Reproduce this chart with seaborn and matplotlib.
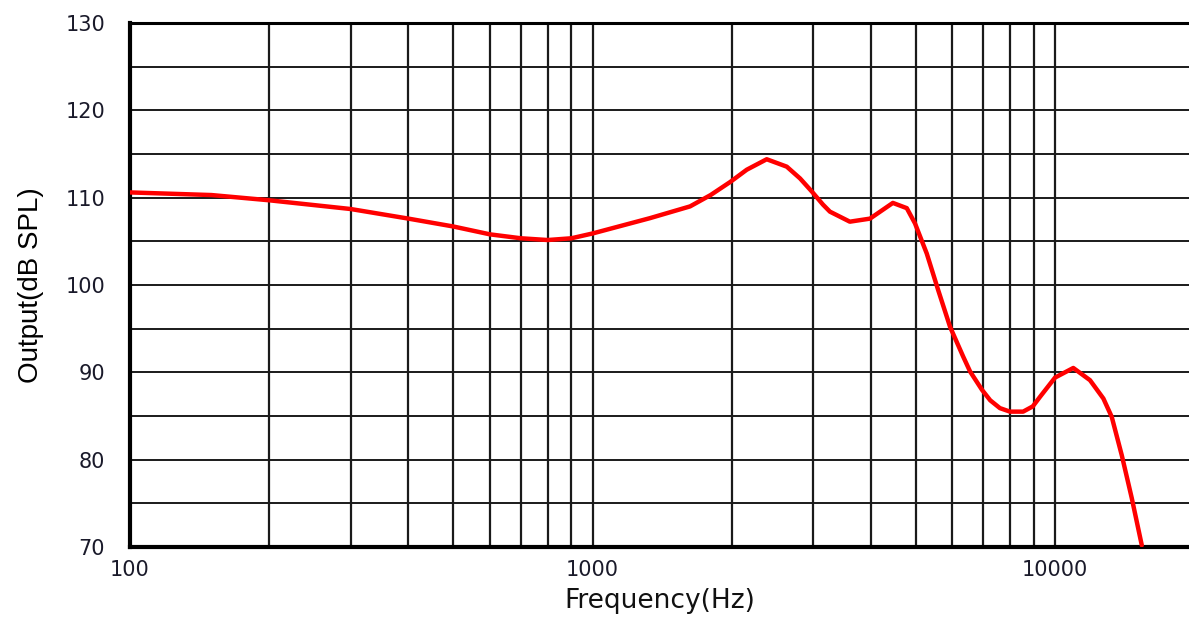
import matplotlib
matplotlib.use("Agg")
import matplotlib.pyplot as plt
import seaborn as sns
import pandas as pd
import numpy as np

# values
freq_hz = [100, 150, 200, 300, 400, 500, 600, 700, 800, 900, 1000, 1330,
           1625, 1800, 1985, 2155, 2380, 2630, 2810, 2980, 3150, 3260, 3600,
           3980, 4460, 4780, 4980, 5280, 5590, 5930, 6330, 6550, 6950, 7240,
           7600, 7990, 8530, 8950, 9280, 10000, 10950, 11900, 12720, 13260,
           13940, 14650, 15400]
output_db = [110.6, 110.3, 109.7, 108.7, 107.6, 106.7, 105.8, 105.35, 105.15,
             105.35, 105.9, 107.65, 109.0, 110.3, 111.8, 113.2, 114.4, 113.55,
             112.2, 110.7, 109.2, 108.4, 107.25, 107.6, 109.4, 108.8, 107.05,
             103.6, 99.4, 95.2, 91.8, 90.1, 88.0, 86.8, 85.9, 85.5, 85.5, 86.1,
             87.2, 89.4, 90.5, 89.1, 87.0, 84.9, 80.5, 75.6, 70.2]

y_ticks = [70, 80, 90, 100, 110, 120, 130]
x_ticks = [100, 1000, 10000]
x_tick_labels = ["100", "1000", "10000"]

df = pd.DataFrame({"Frequency": freq_hz, "Output": output_db})

sns.set_style("white")
plt.rcParams["font.family"] = ["DejaVu Sans"]

fig = plt.figure(figsize=(11.89, 6.19), dpi=100)
ax = fig.add_axes([130 / 1189, 72 / 619, 1059 / 1189, 524 / 619])

sns.lineplot(data=df, x="Frequency", y="Output", ax=ax, color="#ff0000",
             linewidth=3.2, zorder=5)

ax.set_xscale("log")
ax.set_xlim(100, 19480)
ax.set_ylim(70, 130)

# grid: every 5 dB, and log decades only up to 10 kHz
for v in np.arange(75, 130, 5):
    ax.axhline(v, color="#1a1a1a", linewidth=1.4, zorder=1)
for dec in [100, 1000]:
    for m in range(1, 10):
        f = dec * m
        if f > 100:
            ax.axvline(f, color="#1a1a1a", linewidth=1.6, zorder=1)
ax.axvline(10000, color="#1a1a1a", linewidth=1.6, zorder=1)

ax.set_xticks(x_ticks)
ax.set_xticklabels(x_tick_labels)
ax.xaxis.set_minor_locator(matplotlib.ticker.NullLocator())
ax.set_yticks(y_ticks)
ax.tick_params(axis="both", length=0, labelsize=15, colors="#1a1a2a")
ax.tick_params(axis="y", pad=18)
ax.tick_params(axis="x", pad=9)

for side in ["top", "left", "bottom"]:
    ax.spines[side].set_visible(True)
    ax.spines[side].set_color("black")
ax.spines["top"].set_linewidth(2.2)
ax.spines["left"].set_linewidth(3)
ax.spines["bottom"].set_linewidth(3)
ax.spines["right"].set_visible(False)

ax.set_xlabel("Frequency(Hz)", fontsize=19, labelpad=6, color="#111111")
ax.set_ylabel("Output(dB SPL)", fontsize=20, labelpad=15, color="#000000",
              family=["Liberation Sans", "DejaVu Sans"])

fig.savefig("out.png", dpi=100)
